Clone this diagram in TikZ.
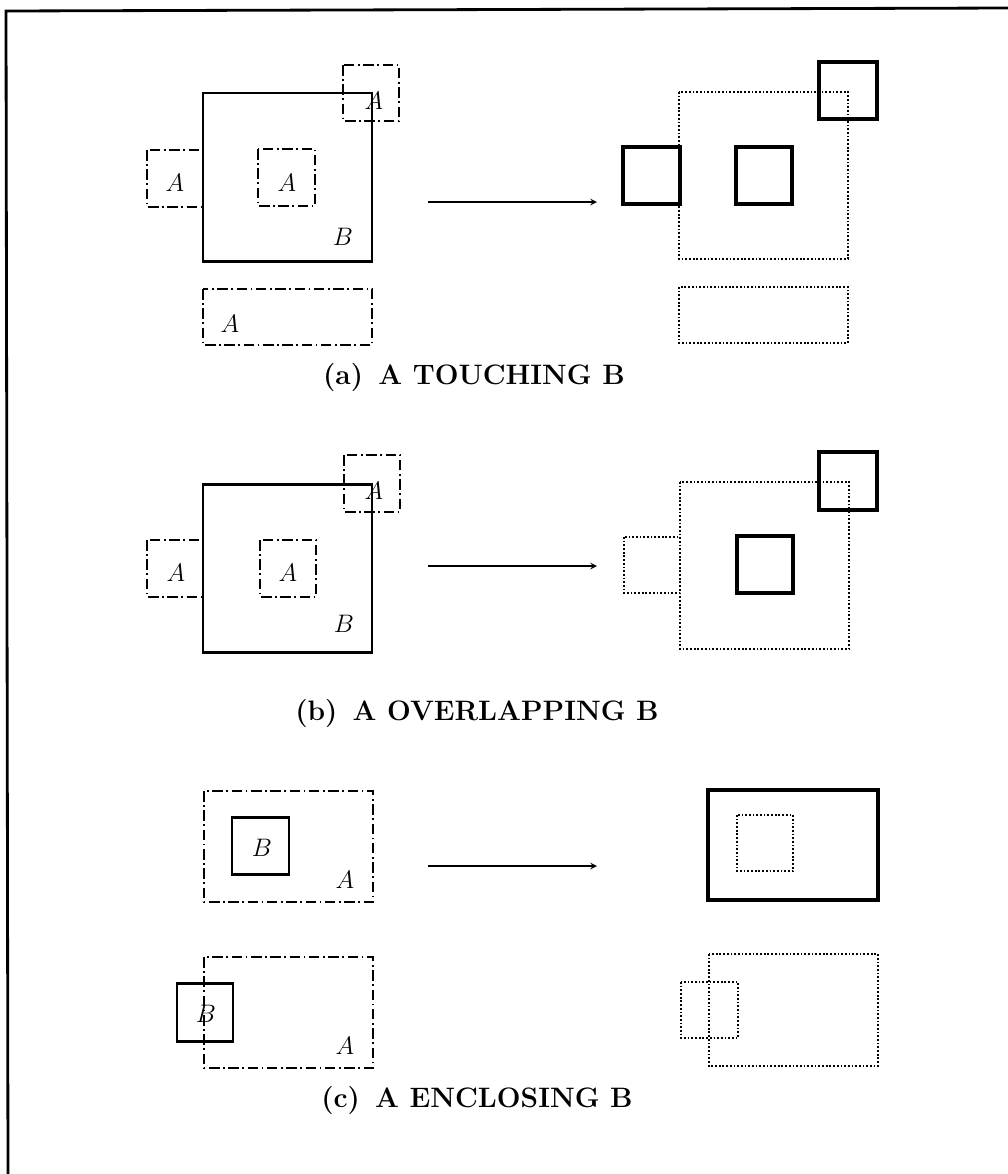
\documentclass[tikz,border=0pt]{standalone}
\usepackage{fontspec}
\begin{document}
\begin{tikzpicture}[
    x=0.02cm,y=-0.02cm,
    frameLine/.style={line width=1.6pt},
    regB/.style={line width=1.7pt},
    regA/.style={line width=1.0pt,dash pattern=on 6pt off 2pt on 1pt off 2pt},
    resKeep/.style={line width=2.5pt},
    resDrop/.style={line width=1.1pt,dash pattern=on 1pt off 1.1pt},
    regLabel/.style={inner sep=0pt,font=\fontsize{14}{16}\selectfont},
    mapArr/.style={->,>=stealth,line width=0.7pt},
    capLabel/.style={inner sep=0pt,font=\fontsize{16}{19}\selectfont\bfseries\addfontfeature{LetterSpace=17}},
]
\useasboundingbox (0,0) rectangle (1008,1174);
% frame
\coordinate (fTL) at (6,11);
\coordinate (fTR) at (1008,8);
\coordinate (fBL) at (8,1174);
\draw[frameLine] (fTR) -- (fTL) -- (fBL);

% (a) touching
\draw[regA] (343,65) rectangle (399,121);
\draw[regA] (147,150) rectangle (203,207);
\draw[regA] (258,149) rectangle (315,206);
\draw[regA] (203,289) rectangle (372,345);
\draw[regB] (203,93) rectangle (372,261);
\node[regLabel] (aA1) at (374,101) {$A$};
\node[regLabel] (aA2) at (175,183) {$A$};
\node[regLabel] (aA3) at (287,183) {$A$};
\node[regLabel] (aB) at (343,237) {$B$};
\node[regLabel] (aA4) at (230,324) {$A$};
\coordinate (aS) at (428,202);
\coordinate (aE) at (597,202);
\draw[mapArr] (aS) -- (aE);
\draw[resDrop] (679,92) rectangle (848,259);
\draw[resDrop] (679,287) rectangle (848,343);
\draw[resKeep] (819,62) rectangle (877,119);
\draw[resKeep] (623,147) rectangle (680,204);
\draw[resKeep] (736,147) rectangle (792,204);
\node[capLabel] (capA) at (474,377) {(a)\, A TOUCHING B};

% (b) overlapping
\draw[regA] (344,455) rectangle (400,512);
\draw[regA] (147,540) rectangle (203,597);
\draw[regA] (260,540) rectangle (316,597);
\draw[regB] (203,484) rectangle (372,652);
\node[regLabel] (bA1) at (374,491) {$A$};
\node[regLabel] (bA2) at (176,573) {$A$};
\node[regLabel] (bA3) at (288,573) {$A$};
\node[regLabel] (bB) at (344,624) {$B$};
\coordinate (bS) at (428,566);
\coordinate (bE) at (597,566);
\draw[mapArr] (bS) -- (bE);
\draw[resDrop] (680,482) rectangle (849,649);
\draw[resDrop] (624,537) rectangle (680,593);
\draw[resKeep] (819,452) rectangle (877,510);
\draw[resKeep] (737,536) rectangle (793,593);
\node[capLabel] (capB) at (477,713) {(b)\, A OVERLAPPING B};

% (c) enclosing
\draw[regA] (204,791) rectangle (373,902);
\draw[regB] (232,817) rectangle (289,874);
\node[regLabel] (cB1) at (262,848) {$B$};
\node[regLabel] (cA1) at (345,880) {$A$};
\draw[regA] (204,957) rectangle (373,1068);
\draw[regB] (177,983) rectangle (233,1041);
\node[regLabel] (cB2) at (206,1014) {$B$};
\node[regLabel] (cA2) at (345,1046) {$A$};
\coordinate (cS) at (428,866);
\coordinate (cE) at (597,866);
\draw[mapArr] (cS) -- (cE);
\draw[resKeep] (708,790) rectangle (878,900);
\draw[resDrop] (737,815) rectangle (793,871);
\draw[resDrop] (709,954) rectangle (878,1066);
\draw[resDrop] (681,982) rectangle (738,1038);
\node[capLabel] (capC) at (477,1100) {(c)\, A ENCLOSING B};
\end{tikzpicture}
\end{document}
